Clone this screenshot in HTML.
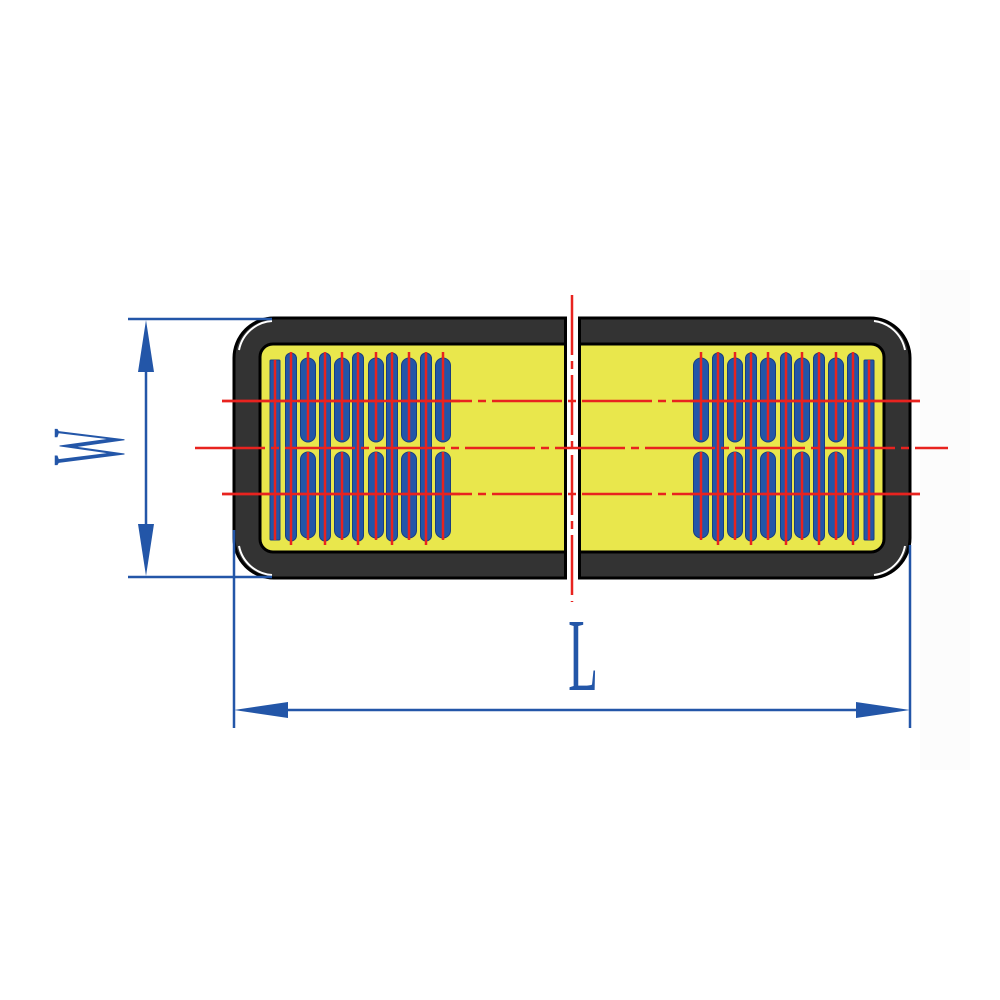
<!DOCTYPE html>
<html><head><meta charset="utf-8"><style>html,body{margin:0;padding:0;background:#fff}svg{display:block}</style></head>
<body>
<svg id="s" width="1000" height="1000" viewBox="0 0 1000 1000" xmlns="http://www.w3.org/2000/svg">
<rect x="920" y="270" width="50" height="500" fill="#fcfcfc"/>
<clipPath id="cl"><rect x="0" y="0" width="567" height="1000"/></clipPath>
<clipPath id="cr"><rect x="578" y="0" width="422" height="1000"/></clipPath>
<g clip-path="url(#cl)">
<rect x="234" y="318" width="676" height="260" rx="40" fill="#333" stroke="#000" stroke-width="3"/>
<rect x="260" y="344" width="624" height="208" rx="13" fill="#e9e74c" stroke="#000" stroke-width="3"/>
</g>
<g clip-path="url(#cr)">
<rect x="234" y="318" width="676" height="260" rx="40" fill="#333" stroke="#000" stroke-width="3"/>
<rect x="260" y="344" width="624" height="208" rx="13" fill="#e9e74c" stroke="#000" stroke-width="3"/>
</g>
<line x1="565.5" y1="318" x2="565.5" y2="578" stroke="#000" stroke-width="3"/>
<line x1="579.5" y1="318" x2="579.5" y2="578" stroke="#000" stroke-width="3"/>
<path d="M239 350 A36 36 0 0 1 272 321 M239 546 A36 36 0 0 0 272 575 M874 321 A36 36 0 0 1 905 350 M874 575 A36 36 0 0 0 905 546" stroke="#fff" stroke-width="2" fill="none"/>
<g id="pills"></g>
<g stroke="#e8231f" stroke-width="2.5" fill="none">
<line x1="222" y1="401" x2="920" y2="401" stroke-dasharray="70 6 8 6"/>
<line x1="195" y1="448" x2="948" y2="448" stroke-dasharray="70 6 8 6"/>
<line x1="222" y1="494" x2="920" y2="494" stroke-dasharray="70 6 8 6"/>
<line x1="222" y1="401" x2="460" y2="401"/>
<line x1="222" y1="494" x2="460" y2="494"/>
<line x1="690" y1="401" x2="920" y2="401"/>
<line x1="690" y1="494" x2="920" y2="494"/>
<line x1="572" y1="295" x2="572" y2="602" stroke-dasharray="60 6 8 6"/>
</g>
<g stroke="#2356a8" stroke-width="2.5" fill="#2356a8">
<line x1="128" y1="319" x2="272" y2="319"/>
<line x1="128" y1="577" x2="272" y2="577"/>
<line x1="146" y1="330" x2="146" y2="566"/>
<path d="M146 320 L138 372 L154 372 Z M146 576 L138 524 L154 524 Z" stroke="none"/>
<line x1="234" y1="530" x2="234" y2="728"/>
<line x1="910" y1="545" x2="910" y2="728"/>
<line x1="244" y1="710" x2="900" y2="710"/>
<path d="M234 710 L288 702 L288 718 Z M910 710 L856 702 L856 718 Z" stroke="none"/>
</g>
<text transform="translate(123,447) rotate(-90) scale(0.37,1)" text-anchor="middle" font-family="Liberation Serif, serif" font-size="104" fill="#2356a8">W</text>
<text transform="translate(583,690) scale(0.47,1)" text-anchor="middle" font-family="Liberation Serif, serif" font-size="104" fill="#2356a8">L</text>
</svg>
<script>
var g=document.getElementById('pills'),h='';
function rect(x,y,w,hh,r){h+='<rect x="'+(x-w/2)+'" y="'+y+'" width="'+w+'" height="'+hh+'" rx="'+r+'" fill="#2356a8" stroke="#1a3d80" stroke-width="1"/>';}
function red(x,y1,y2){h+='<line x1="'+x+'" y1="'+y1+'" x2="'+x+'" y2="'+y2+'" stroke="#e8231f" stroke-width="2.5"/>';}
function side(wide,thin,rc){
 wide.forEach(function(x){rect(x,358,15,84,7.5);rect(x,452,15,86,7.5);red(x,352,440);red(x,452,540);});
 thin.forEach(function(x){rect(x,353,11,188,5.5);red(x,352,545);});
 rect(rc,360,10,180,1);red(rc,360,540);
}
side([308,342,376,409,443],[291,325,358,392,426],275);
side([701,735,768,802,836],[718,751,786,819,853],869);
g.innerHTML=h;
</script>
</body></html>
